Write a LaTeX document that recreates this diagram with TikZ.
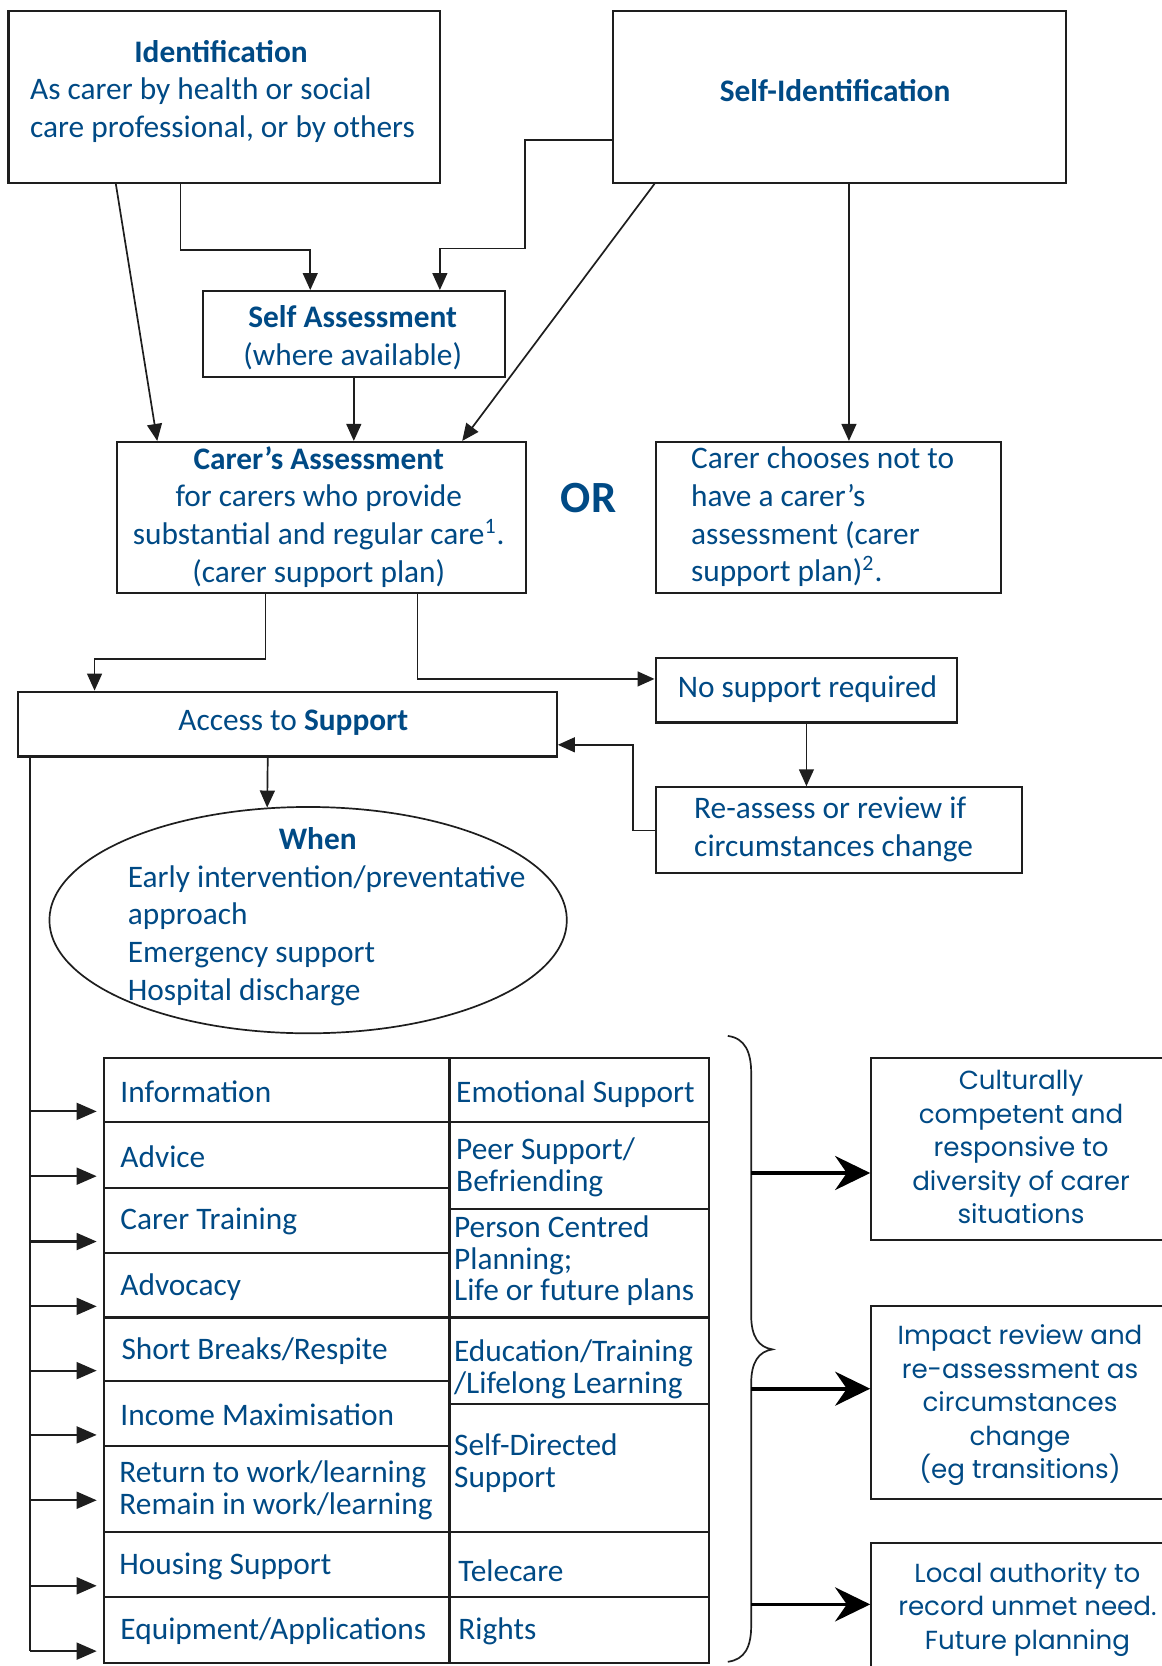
\documentclass[tikz,border=0pt]{standalone}
\usepackage{fontspec}
\setmainfont{Carlito}
\newfontfamily\geofont{Poppins}
\usetikzlibrary{shapes.geometric,arrows.meta,calc}
\definecolor{tblue}{HTML}{004A85}
\definecolor{linec}{HTML}{1E1E1E}
\tikzset{
 box/.style={draw=linec, line width=1pt, inner sep=0pt, anchor=north west},
 txt/.style={text=tblue, font=\fontsize{14.75}{17.75}\selectfont, inner sep=0pt, align=center, yshift=-1pt},
 htxt/.style={text=tblue, font=\fontsize{14.75}{17.75}\selectfont\bfseries, inner sep=0pt, align=center},
 ttxt/.style={text=tblue, font=\fontsize{14.75}{15}\selectfont, inner sep=0pt, align=left, anchor=west, yshift=-0.75pt},
 gtxt/.style={text=tblue, font=\geofont\fontsize{12.3}{15.75}\selectfont, inner sep=0pt, align=center, yshift=-1pt},
 con/.style={draw=linec, line width=0.8pt},
 arr/.style={con, -{Triangle[length=8pt,width=7pt]}},
 tarr/.style={draw=linec, line width=1pt, -{Triangle[length=9.5pt,width=8pt]}},
 bigarr/.style={draw=black, line width=1.7pt, -{Stealth[length=16.5pt,width=16pt,inset=5.5pt]}},
}
\begin{document}
\begin{tikzpicture}[x=0.5pt,y=-0.5pt]
\fill[white] (0,0) rectangle (1093,1568);
\useasboundingbox (0,0) rectangle (1093,1568);

% top boxes
\node[box, minimum width=203pt, minimum height=81pt] (ident) at (7,9) {};
\node[htxt] (identH) at (208,49) {Identification};
\node[txt, align=left, anchor=west] (identB) at (28,102) {As carer by health or social\\care professional, or by others};

\node[box, minimum width=213pt, minimum height=81pt] (selfid) at (576,9) {};
\node[htxt] (selfidT) at (786,85) {Self-Identification};

\node[box, minimum width=142pt, minimum height=40.5pt] (selfass) at (190,273) {};
\node[txt] (selfassT) at (332,315.5) {\textbf{Self Assessment}\\(where available)};

\node[box, minimum width=192.5pt, minimum height=71pt] (carass) at (109,415) {};
\node[txt] (carassT) at (300,484.5) {\textbf{Carer’s Assessment}\\for carers who provide\\substantial and regular care\textsuperscript{1}.\\(carer support plan)};

\node[text=tblue, font=\fontsize{21}{24}\selectfont\bfseries, inner sep=0pt] (orT) at (554,469) {OR};

\node[box, minimum width=162.5pt, minimum height=71pt] (choose) at (616,415) {};
\node[txt, align=left, anchor=west] (chooseT) at (650,484.5) {Carer chooses not to\\have a carer’s\\assessment (carer\\support plan)\textsuperscript{2}.};

\node[box, minimum width=142pt, minimum height=30.5pt] (nosup) at (616,618) {};
\node[txt] (nosupT) at (760,647) {No support required};

\node[box, minimum width=253.5pt, minimum height=30.5pt] (access) at (16,650) {};
\node[txt] (accessT) at (276,678) {Access to \textbf{Support}};

\node[box, minimum width=172.5pt, minimum height=40.5pt] (reass) at (616,740) {};
\node[txt, align=left, anchor=west] (reassT) at (653,778.5) {Re-assess or review if\\circumstances change};

\node[draw=linec, line width=0.8pt, ellipse, minimum width=243.5pt, minimum height=106.5pt, inner sep=0pt] (when) at (290,866) {};
\node[htxt] (whenH) at (299,789) {When};
\node[txt, align=left, anchor=west] (whenB) at (120,878.5) {Early intervention/preventative\\approach\\Emergency support\\Hospital discharge};

% connectors top
\draw[arr] ([xshift=51pt]ident.south west) -- ([xshift=19.5pt]carass.north west);
\draw[arr] ([xshift=81.5pt]ident.south west) -- ++(0,62) -| ([xshift=51pt]selfass.north west);
\draw[arr] ([yshift=-20.5pt]selfid.west) -- ++(-82,0) -- ++(0,102) -| ([xshift=112pt]selfass.north west);
\draw[arr] ([xshift=20pt]selfid.south west) -- ([xshift=163pt]carass.north west);
\draw[arr] ([xshift=111.5pt]selfid.south west) -- ([xshift=91.5pt]choose.north west);
\draw[arr] (selfass.south) -- (selfass.south |- carass.north);
\draw[arr] ([xshift=70.5pt]carass.south west) -- ++(0,61) -| ([xshift=36.5pt]access.north west);
\draw[arr] ([xshift=142pt]carass.south west) |- ([yshift=5.25pt]nosup.west);
\draw[arr] ([xshift=71.5pt]nosup.south west) -- ([xshift=71.5pt]reass.north west);
\draw[arr] (reass.west) -- ++(-20,0) |- ([yshift=-9.75pt]access.east);
\draw[arr] ([xshift=118pt]access.south west) -- (when.110);

% table
\node[box, minimum width=162.5pt, minimum height=30pt] (L1) at (97,995) {};
\node[box, minimum width=162.5pt, minimum height=31pt] (L2) at (97,1055) {};
\node[box, minimum width=162.5pt, minimum height=30.5pt] (L3) at (97,1117) {};
\node[box, minimum width=162.5pt, minimum height=30.5pt] (L4) at (97,1178) {};
\node[box, minimum width=162.5pt, minimum height=30pt] (L5) at (97,1239) {};
\node[box, minimum width=162.5pt, minimum height=30.5pt] (L6) at (97,1299) {};
\node[box, minimum width=162.5pt, minimum height=40.5pt] (L7) at (97,1360) {};
\node[box, minimum width=162.5pt, minimum height=30.5pt] (L8) at (97,1441) {};
\node[box, minimum width=162.5pt, minimum height=31pt] (L9) at (97,1502) {};

\node[box, minimum width=122pt, minimum height=30pt] (R1) at (422,995) {};
\node[box, minimum width=122pt, minimum height=41pt] (R2) at (422,1055) {};
\node[box, minimum width=122pt, minimum height=51pt] (R3) at (422,1137) {};
\node[box, minimum width=122pt, minimum height=40.5pt] (R4) at (422,1239) {};
\node[box, minimum width=122pt, minimum height=60.5pt] (R5) at (422,1320) {};
\node[box, minimum width=122pt, minimum height=30.5pt] (R6) at (422,1441) {};
\node[box, minimum width=122pt, minimum height=31pt] (R7) at (422,1502) {};

\node[ttxt] (tL1) at ([xshift=8pt]L1.west) {Information};
\node[ttxt] (tL2) at ([xshift=8pt]L2.west) {Advice};
\node[ttxt] (tL3) at ([xshift=8pt]L3.west) {Carer Training};
\node[ttxt] (tL4) at ([xshift=8pt]L4.west) {Advocacy};
\node[ttxt] (tL5) at ([xshift=8.5pt]L5.west) {Short Breaks/Respite};
\node[ttxt] (tL6) at ([xshift=8pt]L6.west) {Income Maximisation};
\node[ttxt] (tL7) at ([xshift=7.5pt]L7.west) {Return to work/learning\\Remain in work/learning};
\node[ttxt] (tL8) at ([xshift=7.5pt]L8.west) {Housing Support};
\node[ttxt] (tL9) at ([xshift=8pt]L9.west) {Equipment/Applications};

\node[ttxt] (tR1) at ([xshift=3.5pt,yshift=-1pt]R1.west) {Emotional Support};
\node[ttxt] (tR2) at ([xshift=3.5pt]R2.west) {Peer Support/\\Befriending};
\node[ttxt] (tR3) at ([xshift=2.5pt,yshift=2pt]R3.west) {Person Centred\\Planning;\\Life or future plans};
\node[ttxt] (tR4) at ([xshift=2.5pt,yshift=-3.5pt]R4.west) {Education/Training\\/Lifelong Learning};
\node[ttxt] (tR5) at ([xshift=2.5pt,yshift=3pt]R5.west) {Self-Directed\\Support};
\node[ttxt] (tR6) at ([xshift=4.5pt,yshift=-2pt]R6.west) {Telecare};
\node[ttxt] (tR7) at ([xshift=4.5pt]R7.west) {Rights};

% trunk and arrows into table
\coordinate (trunk) at ([xshift=6pt]access.south west);
\coordinate (a1) at ([xshift=-3pt,yshift=-10pt]L1.west);
\coordinate (a2) at ([xshift=-3pt,yshift=-10pt]L2.west);
\coordinate (a3) at ([xshift=-3pt,yshift=-10pt]L3.west);
\coordinate (a4) at ([xshift=-3pt,yshift=-10pt]L4.west);
\coordinate (a5) at ([xshift=-3pt,yshift=-10pt]L5.west);
\coordinate (a6) at ([xshift=-3pt,yshift=-10pt]L6.west);
\coordinate (a7) at ([xshift=-3pt,yshift=-5.25pt]L7.west);
\coordinate (a8) at ([xshift=-3pt,yshift=-10pt]L8.west);
\coordinate (a9) at ([xshift=-3pt,yshift=-10pt]L9.west);
\draw[con] (trunk) -- (trunk |- a9);
\foreach \i in {1,...,9} {\draw[tarr] (trunk |- a\i) -- (a\i);}

% brace
\draw[con] (685,975) .. controls (701,977) and (707,990) .. (707,1010) -- (707,1238) .. controls (707,1258) and (714,1268) .. (727,1270) .. controls (714,1272) and (707,1282) .. (707,1302) -- (707,1530) .. controls (707,1550) and (701,1562) .. (685,1564);
\coordinate (br1) at (707,1104);
\coordinate (br2) at (707,1307);
\coordinate (br3) at (707,1510);

% right boxes
\node[box, minimum width=142pt, minimum height=85.5pt] (ra) at (819,995) {};
\node[gtxt] (raT) at (961,1077.5) {Culturally\\competent and\\responsive to\\diversity of carer\\situations};
\node[box, minimum width=141pt, minimum height=91pt] (rb) at (819,1228) {};
\node[gtxt] (rbT) at (960,1320.5) {Impact review and\\re-assessment as\\circumstances\\change\\(eg transitions)};
\node[box, minimum width=148pt, minimum height=61pt] (rc) at (819,1451) {};
\node[gtxt] (rcT) at (967,1512.5) {Local authority to\\record unmet need.\\Future planning};

\draw[bigarr] (br1) -- (br1 -| ra.west);
\draw[bigarr] (br2) -- (br2 -| rb.west);
\draw[bigarr] (br3) -- (br3 -| rc.west);
\end{tikzpicture}
\end{document}
